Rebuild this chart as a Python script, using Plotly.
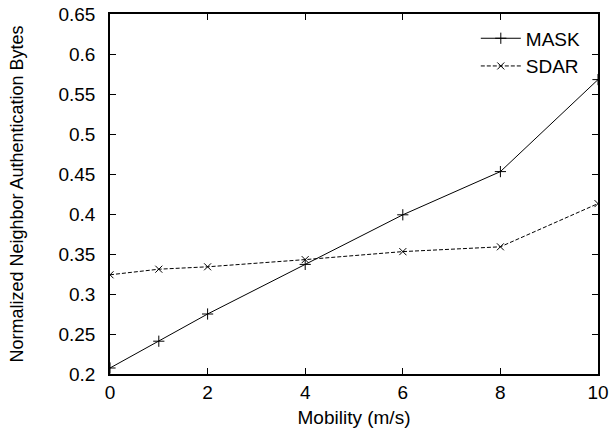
import plotly.graph_objects as go

mobility = [0, 1, 2, 4, 6, 8, 10]
mask = [0.2075, 0.241, 0.275, 0.337, 0.399, 0.453, 0.568]
sdar = [0.324, 0.331, 0.334, 0.343, 0.353, 0.359, 0.413]
x_ticks = [0, 2, 4, 6, 8, 10]
y_ticks = [0.2, 0.25, 0.3, 0.35, 0.4, 0.45, 0.5, 0.55, 0.6, 0.65]
y_tick_text = ["0.2", "0.25", "0.3", "0.35", "0.4", "0.45", "0.5", "0.55", "0.6", "0.65"]

FONT = "Liberation Sans, Arial, sans-serif"

fig = go.Figure()
fig.add_trace(go.Scatter(
    x=mobility, y=mask, name="MASK", mode="lines+markers",
    line=dict(color="black", width=1),
    marker=dict(symbol="cross-thin-open", size=8, line=dict(color="black", width=1)),
))
fig.add_trace(go.Scatter(
    x=mobility, y=sdar, name="SDAR", mode="lines+markers",
    line=dict(color="black", width=1, dash="4px,2px"),
    marker=dict(symbol="x-thin-open", size=7, line=dict(color="black", width=1)),
))

axis_common = dict(
    showgrid=False, zeroline=False, showline=True, linecolor="black", linewidth=1.5,
    mirror="ticks", ticks="inside", ticklen=6, tickcolor="black", tickwidth=1,
    tickfont=dict(family=FONT, size=19, color="black"),
    ticklabeloverflow="allow",
)
fig.update_xaxes(
    range=[0, 10], tickvals=x_ticks, ticktext=[str(v) for v in x_ticks],
    title=dict(text="Mobility (m/s)", font=dict(family=FONT, size=19, color="black"), standoff=9),
    **axis_common,
)
fig.update_yaxes(
    range=[0.2, 0.65], tickvals=y_ticks, ticktext=y_tick_text,
    ticklabelstandoff=9,
    title=dict(text="Normalized Neighbor Authentication Bytes", font=dict(family=FONT, size=18, color="black"), standoff=30),
    **axis_common,
)
fig.update_layout(
    width=613, height=438,
    margin=dict(l=110, r=15, t=14, b=64, autoexpand=False),
    plot_bgcolor="white", paper_bgcolor="white",
    legend=dict(x=0.975, y=0.985, xanchor="right", yanchor="top",
                bgcolor="rgba(0,0,0,0)",
                font=dict(family=FONT, size=19, color="black"),
                tracegroupgap=0, itemwidth=40),
    showlegend=True,
)
fig.write_html(
    "out.html",
    config={"displayModeBar": False},
    post_script="document.body.style.margin='0';document.body.style.overflow='hidden';",
)
